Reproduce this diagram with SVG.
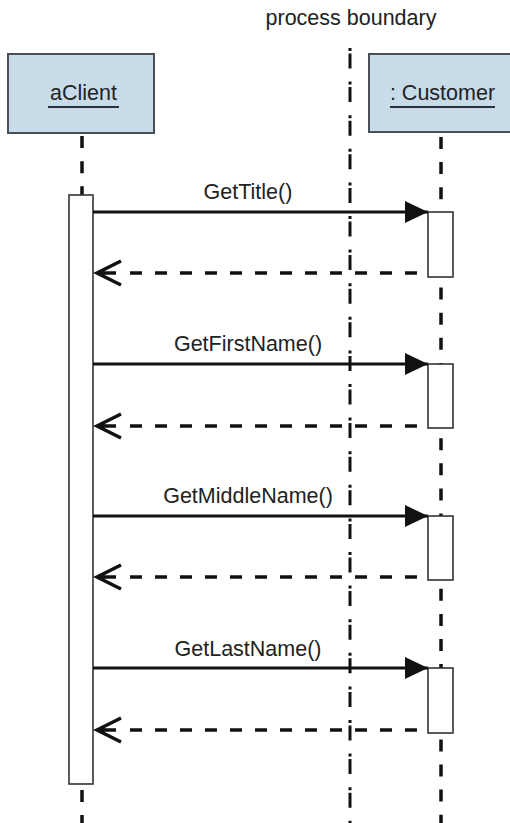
<svg xmlns="http://www.w3.org/2000/svg" width="510" height="823" viewBox="0 0 510 823">
  <style>
    .obj { fill: #c8dbe9; stroke: #4a4f55; stroke-width: 2; }
    .name { font-family: "Liberation Sans", Arial, sans-serif; font-size: 21.5px; fill: #222; text-anchor: middle; }
    .uline { stroke: #2a2f3a; stroke-width: 2; }
    .lifeline { stroke: #111; stroke-width: 3.5; fill: none; }
    .boundary { stroke: #111; stroke-width: 3; fill: none; stroke-dasharray: 3 2.5 15 13.1; }
    .act { fill: #fff; stroke: #333; stroke-width: 1.6; }
    .call { stroke: #111; stroke-width: 3; fill: none; }
    .ret { stroke: #111; stroke-width: 3.5; fill: none; stroke-dasharray: 12 13; }
    .openhead { stroke: #111; stroke-width: 3.5; fill: none; stroke-linejoin: miter; }
    .msg { font-family: "Liberation Sans", Arial, sans-serif; font-size: 21.5px; fill: #222; text-anchor: middle; }
  </style>
  <defs>
    <marker id="solidHead" markerWidth="24" markerHeight="24" refX="23" refY="11" orient="auto" markerUnits="userSpaceOnUse">
      <polygon points="0,0 23,11 0,22" fill="#111"/>
    </marker>
  </defs>
  <rect width="510" height="823" fill="#fff"/>

  <!-- process boundary -->
  <g id="process-boundary">
    <text class="msg" x="351" y="25" font-size="22">process boundary</text>
    <line class="boundary" x1="350" y1="48" x2="350" y2="823"/>
  </g>

  <!-- aClient object with its lifeline and activation -->
  <g id="aClient">
    <rect class="obj" x="8" y="54" width="146" height="79"/>
    <text class="name" x="83.5" y="100">aClient</text>
    <line class="uline" x1="48" y1="107" x2="119" y2="107"/>
    <line class="lifeline" x1="82" y1="136" x2="82" y2="823" stroke-dasharray="12 13.15"/>
    <rect class="act" x="69" y="195" width="24" height="589"/>
  </g>

  <!-- Customer object with its lifeline and activations -->
  <g id="customer">
    <rect class="obj" x="369" y="54" width="145" height="78"/>
    <text class="name" x="442.5" y="100">: Customer</text>
    <line class="uline" x1="390" y1="107" x2="495" y2="107"/>
    <line class="lifeline" x1="441" y1="137" x2="441" y2="823" stroke-dasharray="12 13.1"/>
    <rect class="act" x="428" y="212" width="25" height="65"/>
    <rect class="act" x="428" y="364" width="25" height="64"/>
    <rect class="act" x="428" y="516" width="25" height="64"/>
    <rect class="act" x="428" y="668" width="25" height="65"/>
  </g>

  <!-- messages -->
  <g id="connectors">
    <text class="msg" x="248" y="199">GetTitle()</text>
    <line class="call" x1="93" y1="212" x2="428" y2="212" marker-end="url(#solidHead)"/>
    <line class="ret" x1="417" y1="273" x2="128" y2="273"/>
    <path class="openhead" d="M121,261 L97,273 L121,285 M97,273 H116"/>

    <text class="msg" x="248" y="351">GetFirstName()</text>
    <line class="call" x1="93" y1="364" x2="428" y2="364" marker-end="url(#solidHead)"/>
    <line class="ret" x1="417" y1="426" x2="128" y2="426"/>
    <path class="openhead" d="M121,414 L97,426 L121,438 M97,426 H116"/>

    <text class="msg" x="248" y="503">GetMiddleName()</text>
    <line class="call" x1="93" y1="516" x2="428" y2="516" marker-end="url(#solidHead)"/>
    <line class="ret" x1="417" y1="577" x2="128" y2="577"/>
    <path class="openhead" d="M121,565 L97,577 L121,589 M97,577 H116"/>

    <text class="msg" x="248" y="656">GetLastName()</text>
    <line class="call" x1="93" y1="668" x2="428" y2="668" marker-end="url(#solidHead)"/>
    <line class="ret" x1="417" y1="730" x2="128" y2="730"/>
    <path class="openhead" d="M121,718 L97,730 L121,742 M97,730 H116"/>
  </g>
</svg>
